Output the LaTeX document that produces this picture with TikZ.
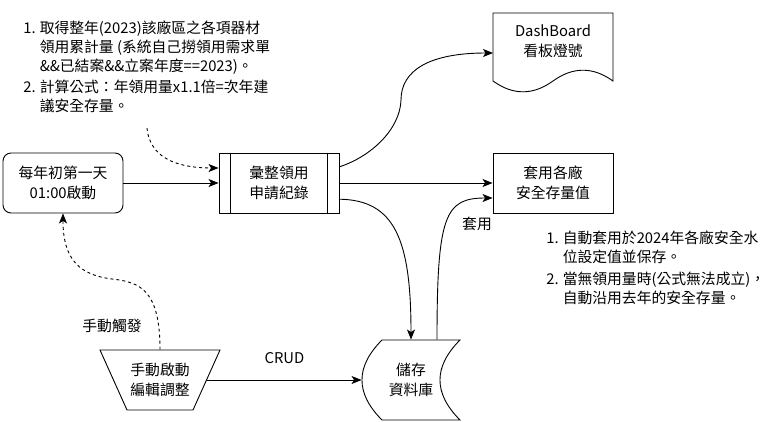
\documentclass[tikz,border=0pt]{standalone}
\usepackage{fontspec}
\setmainfont{Noto Sans CJK TC}
\usetikzlibrary{arrows.meta}

\tikzset{
  flow/.style={minimum width=120pt, minimum height=60pt, align=center, inner sep=0pt},
  note/.style={anchor=north west, inner sep=0pt, font=\fontsize{14.8}{19}\selectfont},
}

\begin{document}
\begin{tikzpicture}[x=1pt, y=-1pt, line width=0.9pt,
    >={Stealth[length=10pt,width=8pt,inset=2.5pt]},
    font=\fontsize{14.8}{20}\selectfont]
  \useasboundingbox (0,0) rectangle (771,421);

  % the six shapes
  \begin{scope}[every node/.style={flow}]
    \node[draw, rounded corners=8pt] (1) at (63,183) {每年初第一天\\01:00啟動};
    \node[draw] (2) at (279,183) {彙整領用\\申請紀錄};
    \node[draw] (3) at (553,183) {套用各廠\\安全存量值};
    \node[minimum height=56pt] (4) at (553,41) {DashBoard\\看板燈號};
    \node[minimum width=98pt, minimum height=80pt] (5) at (411,380) {儲存\\資料庫};
    \node (6) at (160,380) {手動啟動\\編輯調整};
  \end{scope}

  % outlines that are no rectangles
  \draw ([xshift=12pt]2.north west) -- ([xshift=12pt]2.south west)
        ([xshift=-12pt]2.north east) -- ([xshift=-12pt]2.south east);
  \draw (493,13) -- (613,13) -- (613,81) .. controls (593,66.6) and (573,66.6) .. (553,81)
        .. controls (533,95.4) and (513,95.4) .. (493,81) -- cycle;
  \draw (382,340) -- (460,340) .. controls (433.3,366.7) and (433.3,393.3) .. (460,420)
        -- (382,420) .. controls (355.3,393.3) and (355.3,366.7) .. (382,340) -- cycle;
  \draw (100,350) -- (220,350) -- (193,410) -- (127,410) -- cycle;

  % notes
  \node[note] (7) at (23,20) {\begin{tabular}{@{}l@{\hspace{4pt}}l@{}}
    1. & 取得整年(2023)該廠區之各項器材\\
       & 領用累計量 (系統自己撈領用需求單\\
       & \&\&已結案\&\&立案年度==2023)。\\[2pt]
    2. & 計算公式：年領用量x1.1倍=次年建\\
       & 議安全存量。
  \end{tabular}};
  \node[note] (8) at (546,230) {\begin{tabular}{@{}l@{\hspace{4pt}}l@{}}
    1. & 自動套用於2024年各廠安全水\\
       & 位設定值並保存。\\[3pt]
    2. & 當無領用量時(公式無法成立)，\\
       & 自動沿用去年的安全存量。
  \end{tabular}};

  % connectors
  \coordinate (9) at (147,128);
  \coordinate (10) at (493,53);
  \draw[->] (1) -- (2);
  \draw[->] (2) -- (3);
  \draw[->] (2.15) .. controls (370,157) and (400,130) .. (401,100)
        .. controls (401,70) and (430,53) .. (10);
  \draw[->] (2.-15) .. controls (395,200) and (411,240) .. (5.north);
  \draw[->] ([xshift=26pt]5.north) .. controls (437,215) and (445,198) .. ([yshift=-15pt]3.west);
  \node (11) at (477,224) {套用};
  \draw[->] ([xshift=-13pt]6.east) -- node[above=13pt] (12) {CRUD} (5.west);
  \draw[->, dashed] (6.north) .. controls (160,290) and (140,282) .. (112,279)
        .. controls (80,275) and (63,260) .. (1.south);
  \node (13) at (112,326) {手動觸發};
  \draw[->, dashed] (9) .. controls (150,162) and (185,168) .. ([yshift=15pt]2.west);

\end{tikzpicture}
\end{document}
